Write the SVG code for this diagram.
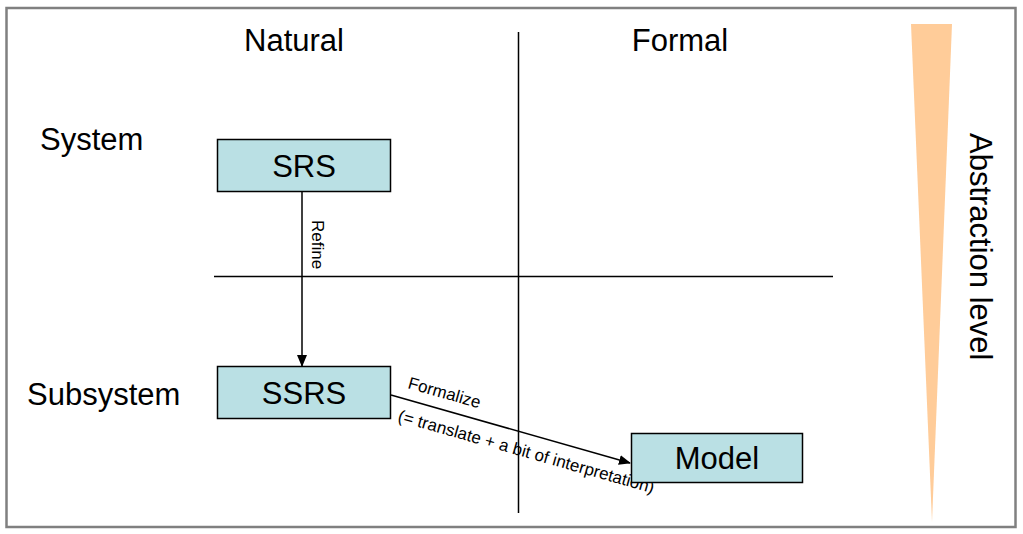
<svg xmlns="http://www.w3.org/2000/svg" width="1023" height="534" viewBox="0 0 1023 534">
<defs>
<style>
.lbl{font-family:"Liberation Sans",Arial,sans-serif;font-size:31px;fill:#000}
.box{fill:#BAE0E4;stroke:#000;stroke-width:1.5}
.small{font-family:"Liberation Sans",Arial,sans-serif;font-size:17px;fill:#000}
.ln{stroke:#000;stroke-width:1.5;fill:none}
</style>
<marker id="arr" markerWidth="12" markerHeight="10" refX="11" refY="5" orient="auto" markerUnits="userSpaceOnUse">
<path d="M0,0 L12,5 L0,10 Z" fill="#000"/>
</marker>
</defs>
<rect x="0" y="0" width="1023" height="534" fill="#fff"/>
<rect x="6.5" y="8" width="1009" height="519" fill="#fff" stroke="#808080" stroke-width="2.5"/>
<g id="axes">
<line class="ln" x1="518.5" y1="32" x2="518.5" y2="513"/>
<line class="ln" x1="214" y1="276.5" x2="833" y2="276.5"/>
</g>
<g id="abstraction">
<polygon points="911,24 952,24 932,522" fill="#FFCC99"/>
<text class="lbl" transform="translate(970,133) rotate(90)">Abstraction level</text>
</g>
<g id="headers">
<text class="lbl" x="294" y="51" text-anchor="middle">Natural</text>
<text class="lbl" x="680" y="51" text-anchor="middle">Formal</text>
<text class="lbl" x="40" y="150">System</text>
<text class="lbl" x="27" y="405">Subsystem</text>
</g>
<g id="connectors">
<line class="ln" x1="302" y1="192" x2="302" y2="366" marker-end="url(#arr)"/>
<text class="small" transform="translate(312,220) rotate(90)">Refine</text>
<line class="ln" x1="391" y1="395" x2="630" y2="463" marker-end="url(#arr)"/>
<text class="small" transform="translate(407,388) rotate(15.8)">Formalize</text>
<text class="small" transform="translate(397,421) rotate(15.8)">(= translate + a bit of interpretation)</text>
</g>
<g id="srs">
<rect class="box" x="217.5" y="139.5" width="173" height="52"/>
<text class="lbl" x="304" y="177" text-anchor="middle">SRS</text>
</g>
<g id="ssrs">
<rect class="box" x="217.5" y="366.5" width="173" height="52"/>
<text class="lbl" x="304" y="404" text-anchor="middle">SSRS</text>
</g>
<g id="model">
<rect class="box" x="631.5" y="433.5" width="171" height="49"/>
<text class="lbl" x="717" y="469" text-anchor="middle">Model</text>
</g>
</svg>
